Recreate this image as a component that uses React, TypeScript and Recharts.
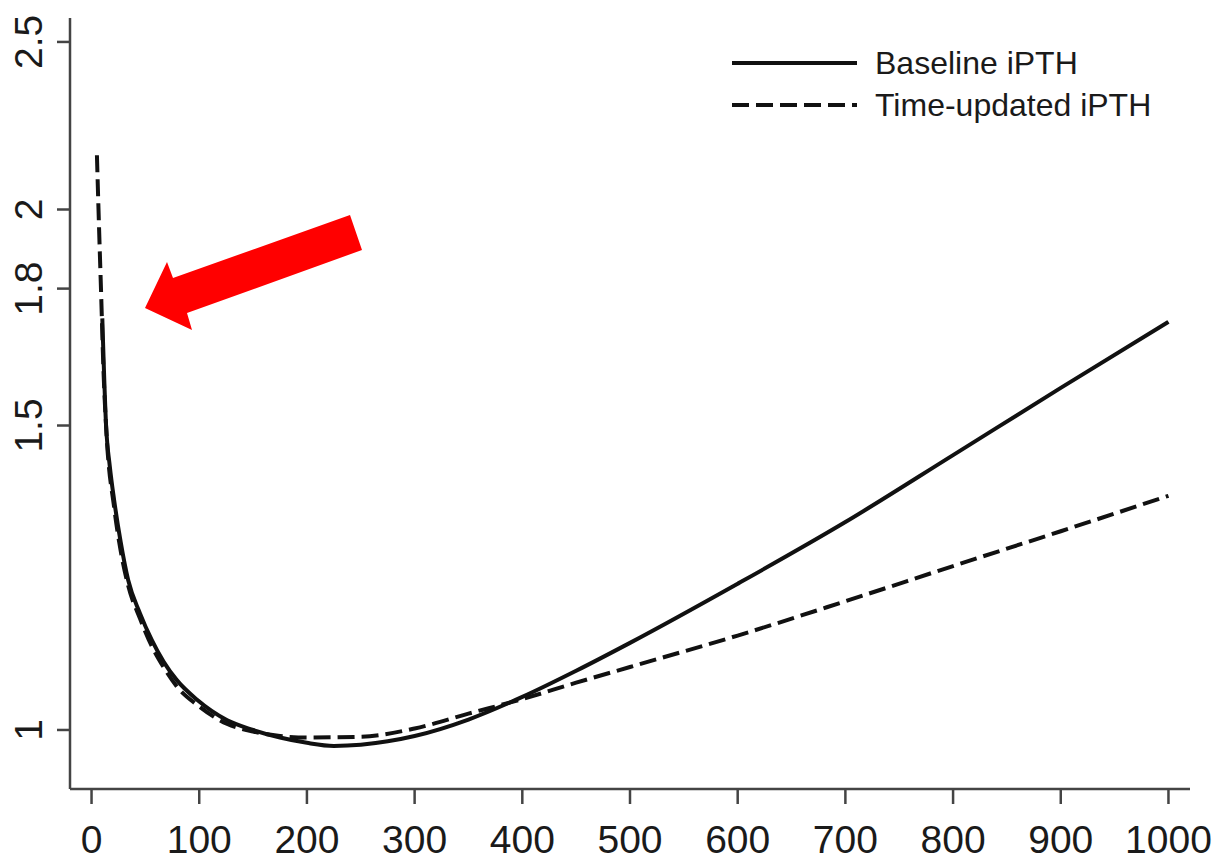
import React from 'react';
import { LineChart, Line, XAxis, YAxis, Legend } from 'recharts';

// Baseline iPTH (solid)
const baselineX = [10, 13.5, 17, 21, 27, 34, 45, 56, 67, 79, 98, 126, 150, 175, 200, 225, 250, 275, 300, 350, 400, 450, 500, 600, 700, 800, 900, 1000];
const baselineY = [1.73, 1.5, 1.42, 1.358, 1.285, 1.221, 1.168, 1.127, 1.095, 1.069, 1.041, 1.013, 1.0, 0.99, 0.983, 0.979, 0.9805, 0.985, 0.992, 1.014, 1.045, 1.082, 1.123, 1.215, 1.319, 1.442, 1.577, 1.722];

// Time-updated iPTH (dashed)
const timeX = [5, 7, 9, 11, 14, 21, 27, 34, 45, 56, 67, 79, 98, 126, 150, 175, 200, 250, 300, 350, 400, 450, 500, 600, 700, 800, 900, 1000];
const timeY = [2.15, 1.95, 1.78, 1.62, 1.48, 1.345, 1.27, 1.212, 1.16, 1.118, 1.087, 1.06, 1.034, 1.008, 0.998, 0.992, 0.99, 0.991, 1.002, 1.022, 1.042, 1.065, 1.0875, 1.134, 1.187, 1.244, 1.303, 1.366];

const xTicks = [0, 100, 200, 300, 400, 500, 600, 700, 800, 900, 1000];
const yTicks = [1, 1.5, 1.8, 2, 2.5];

const baselineData = baselineX.map((x, i) => ({ x, v: baselineY[i] }));
const timeData = timeX.map((x, i) => ({ x, v: timeY[i] }));

const FONT = '"Liberation Sans", Arial, Helvetica, sans-serif';
const INK = '#1a1a1a';
const DASH = '17 7';

const YTick = (props: any) => {
  const { y, payload } = props;
  const bx = 34;
  return (
    <text
      x={bx}
      y={y}
      transform={`rotate(-90, ${bx}, ${y})`}
      textAnchor="middle"
      fontSize={39}
      fontFamily={FONT}
      fill={INK}
    >
      {payload.value}
    </text>
  );
};

const renderLegend = (props: any) => {
  const { payload = [] } = props;
  return (
    <div style={{ fontFamily: FONT, fontSize: 32, color: INK }}>
      {payload.map((entry: any) => (
        <div key={entry.value} style={{ display: 'flex', alignItems: 'center', height: 42 }}>
          <svg width={125} height={10} style={{ marginRight: 18 }}>
            <line
              x1={0}
              y1={5}
              x2={125}
              y2={5}
              stroke="#111"
              strokeWidth={4}
              strokeDasharray={entry.value === 'Time-updated iPTH' ? DASH : undefined}
            />
          </svg>
          <span>{entry.value}</span>
        </div>
      ))}
    </div>
  );
};

export default function App() {
  return (
    <div style={{ position: 'relative', width: 1215, height: 856, marginBottom: -8 }}>
      <LineChart width={1215} height={856} margin={{ top: 10, right: 33, left: 0, bottom: 0 }}>
        <XAxis
          type="number"
          dataKey="x"
          domain={[-20, 1020]}
          ticks={xTicks}
          allowDataOverflow
          height={75}
          tickSize={15}
          tickMargin={21}
          stroke="#444"
          strokeWidth={2.5}
          tick={{ fontSize: 39, fontFamily: FONT, fill: INK }}
        />
        <YAxis
          type="number"
          scale="log"
          domain={[0.9244, 2.581]}
          ticks={yTicks}
          allowDataOverflow
          width={62}
          tickSize={13}
          stroke="#444"
          strokeWidth={2.5}
          tick={<YTick />}
        />
        <Legend
          layout="horizontal"
          verticalAlign="middle"
          align="center"
          content={renderLegend}
          wrapperStyle={{ top: 34, left: 724, width: 'auto' }}
        />
        <Line
          data={baselineData}
          dataKey="v"
          name="Baseline iPTH"
          type="monotone"
          stroke="#111"
          strokeWidth={4}
          dot={false}
          isAnimationActive={false}
        />
        <Line
          data={timeData}
          dataKey="v"
          name="Time-updated iPTH"
          type="monotone"
          stroke="#111"
          strokeWidth={4}
          strokeDasharray={DASH}
          dot={false}
          isAnimationActive={false}
        />
      </LineChart>
      {/* red annotation arrow */}
      <svg
        width={1215}
        height={856}
        style={{ position: 'absolute', left: 0, top: 0, pointerEvents: 'none' }}
      >
        <polygon
          points="137,300 159,254 165,270 342,207 354,242 179,305 184,322"
          fill="#ff0000"
        />
      </svg>
    </div>
  );
}
